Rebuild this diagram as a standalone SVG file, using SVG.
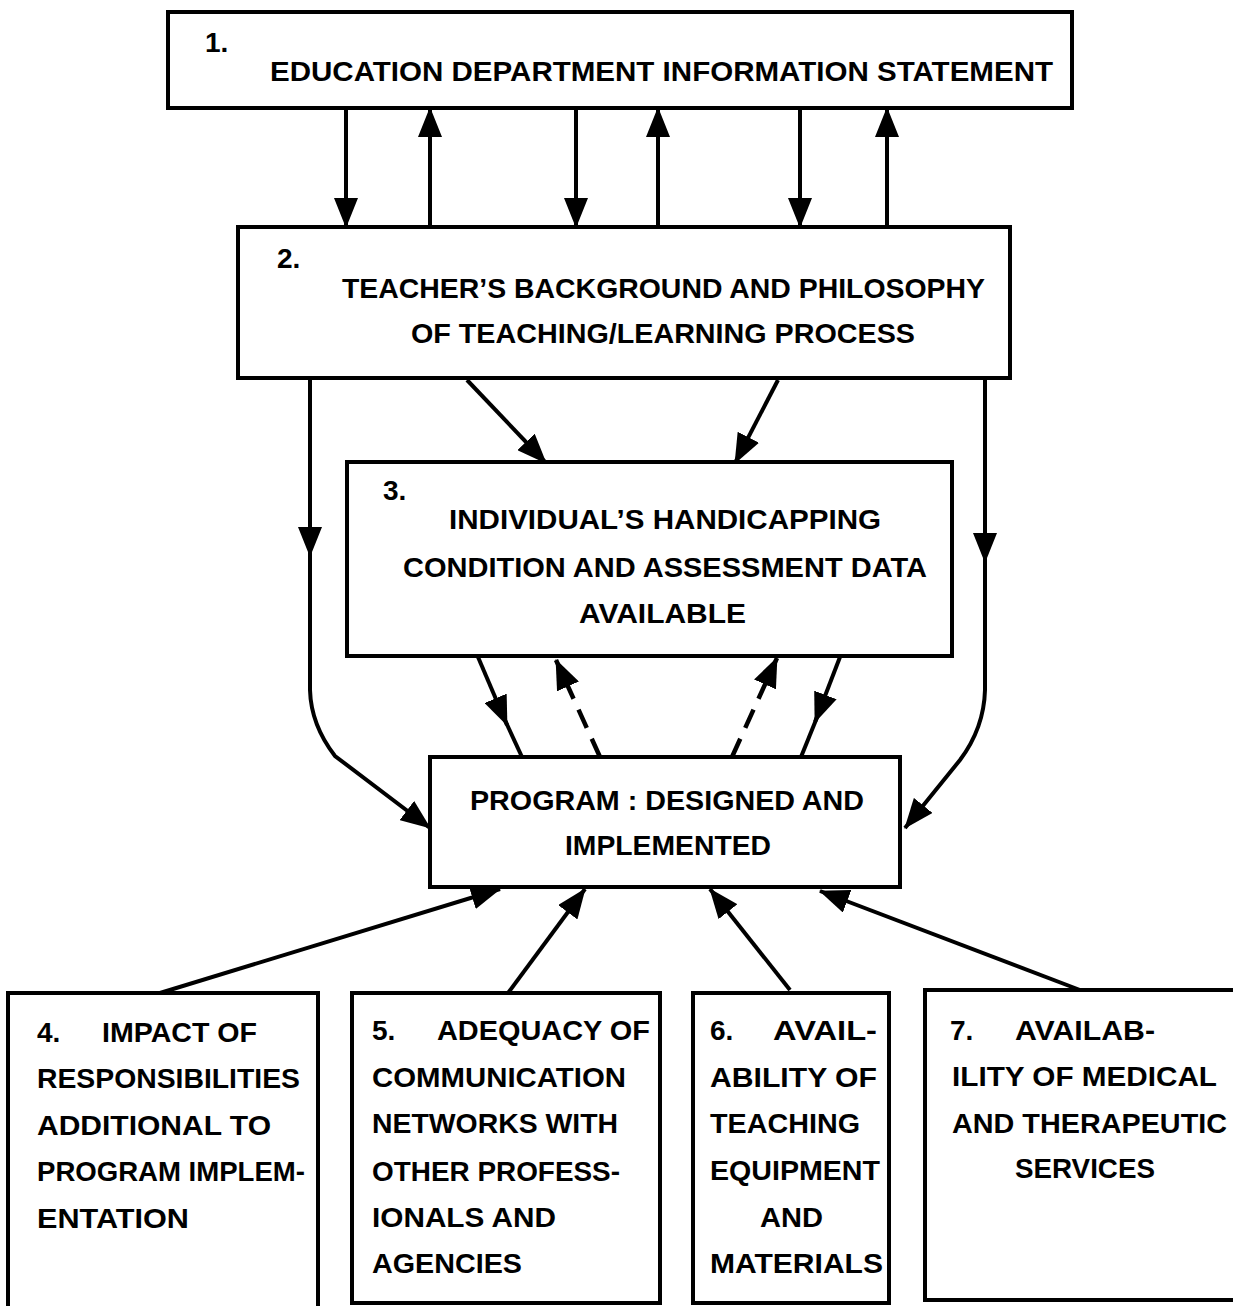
<svg xmlns="http://www.w3.org/2000/svg" width="1233" height="1306" viewBox="0 0 1233 1306">
<style>
.box{fill:#fff;stroke:#000;stroke-width:4}
.t{font-family:"Liberation Sans",Arial,sans-serif;font-weight:bold;font-size:28px;fill:#000}
.c{fill:none;stroke:#000;stroke-width:4}
.d{fill:none;stroke:#000;stroke-width:4.5;stroke-dasharray:20 12}
</style>
<defs>
<marker id="ah" markerUnits="userSpaceOnUse" markerWidth="30" markerHeight="24" viewBox="0 0 30 24" refX="29" refY="12" orient="auto">
<path d="M0,0 L30,12 L0,24 Z" fill="#000"/>
</marker>
</defs>
<rect width="1233" height="1306" fill="#fff"/>
<g id="connectors">
<path class="c" d="M346,108 L346,227" marker-end="url(#ah)"/>
<path class="c" d="M430,227 L430,108" marker-end="url(#ah)"/>
<path class="c" d="M576,108 L576,227" marker-end="url(#ah)"/>
<path class="c" d="M658,227 L658,108" marker-end="url(#ah)"/>
<path class="c" d="M800,108 L800,227" marker-end="url(#ah)"/>
<path class="c" d="M887,227 L887,108" marker-end="url(#ah)"/>
<path class="c" d="M467,380 L546,463" marker-end="url(#ah)"/>
<path class="c" d="M778,380 L735,463" marker-end="url(#ah)"/>
<path class="c" d="M310,378 L310,556" marker-end="url(#ah)"/>
<path class="c" d="M310,550 L310,690 Q311,725 335,756 L430,828" marker-end="url(#ah)"/>
<path class="c" d="M985,378 L985,562" marker-end="url(#ah)"/>
<path class="c" d="M985,557 L985,690 Q984,728 960,760 L905,828" marker-end="url(#ah)"/>
<path class="c" d="M478,657 L507,725" marker-end="url(#ah)"/>
<path class="c" d="M504,718 L522,757"/>
<path class="c" d="M840,657 L815,722" marker-end="url(#ah)"/>
<path class="c" d="M818,715 L801,757"/>
<path class="d" d="M600,757 L556,660" marker-end="url(#ah)"/>
<path class="d" d="M732,757 L777,658" marker-end="url(#ah)"/>
<path class="c" d="M160,993 L500,889" marker-end="url(#ah)"/>
<path class="c" d="M508,993 L585,889" marker-end="url(#ah)"/>
<path class="c" d="M790,990 L710,889" marker-end="url(#ah)"/>
<path class="c" d="M1080,990 L820,891" marker-end="url(#ah)"/>
</g>
<g id="node1">
<rect class="box" x="168" y="12" width="904" height="96"/>
<text class="t" x="205" y="52">1.</text>
<text class="t" x="270" y="81" textLength="783" lengthAdjust="spacingAndGlyphs">EDUCATION DEPARTMENT INFORMATION STATEMENT</text>
</g>
<g id="node2">
<rect class="box" x="238" y="227" width="772" height="151"/>
<text class="t" x="277" y="268">2.</text>
<text class="t" x="342" y="298" textLength="643" lengthAdjust="spacingAndGlyphs">TEACHER’S BACKGROUND AND PHILOSOPHY</text>
<text class="t" x="411" y="343" textLength="504" lengthAdjust="spacingAndGlyphs">OF TEACHING/LEARNING PROCESS</text>
</g>
<g id="node3">
<rect class="box" x="347" y="462" width="605" height="194"/>
<text class="t" x="383" y="500">3.</text>
<text class="t" x="449" y="529" textLength="432" lengthAdjust="spacingAndGlyphs">INDIVIDUAL’S HANDICAPPING</text>
<text class="t" x="403" y="577" textLength="524" lengthAdjust="spacingAndGlyphs">CONDITION AND ASSESSMENT DATA</text>
<text class="t" x="579" y="623" textLength="167" lengthAdjust="spacingAndGlyphs">AVAILABLE</text>
</g>
<g id="nodeP">
<rect class="box" x="430" y="757" width="470" height="130"/>
<text class="t" x="470" y="810" textLength="394" lengthAdjust="spacingAndGlyphs">PROGRAM : DESIGNED AND</text>
<text class="t" x="565" y="855" textLength="206" lengthAdjust="spacingAndGlyphs">IMPLEMENTED</text>
</g>
<g id="node4">
<rect class="box" x="8" y="993" width="310" height="320"/>
<text class="t"><tspan x="37" y="1042">4.</tspan><tspan x="102" y="1042" textLength="155" lengthAdjust="spacingAndGlyphs">IMPACT OF</tspan></text>
<text class="t" x="37" y="1088" textLength="263" lengthAdjust="spacingAndGlyphs">RESPONSIBILITIES</text>
<text class="t" x="37" y="1135" textLength="234" lengthAdjust="spacingAndGlyphs">ADDITIONAL TO</text>
<text class="t" x="37" y="1181" textLength="268" lengthAdjust="spacingAndGlyphs">PROGRAM IMPLEM-</text>
<text class="t" x="37" y="1228" textLength="152" lengthAdjust="spacingAndGlyphs">ENTATION</text>
</g>
<g id="node5">
<rect class="box" x="352" y="993" width="308" height="310"/>
<text class="t"><tspan x="372" y="1040">5.</tspan><tspan x="437" y="1040" textLength="213" lengthAdjust="spacingAndGlyphs">ADEQUACY OF</tspan></text>
<text class="t" x="372" y="1087" textLength="254" lengthAdjust="spacingAndGlyphs">COMMUNICATION</text>
<text class="t" x="372" y="1133" textLength="246" lengthAdjust="spacingAndGlyphs">NETWORKS WITH</text>
<text class="t" x="372" y="1181" textLength="248" lengthAdjust="spacingAndGlyphs">OTHER PROFESS-</text>
<text class="t" x="372" y="1227" textLength="184" lengthAdjust="spacingAndGlyphs">IONALS AND</text>
<text class="t" x="372" y="1273" textLength="150" lengthAdjust="spacingAndGlyphs">AGENCIES</text>
</g>
<g id="node6">
<rect class="box" x="693" y="993" width="196" height="310"/>
<text class="t"><tspan x="710" y="1040">6.</tspan><tspan x="773" y="1040" textLength="104" lengthAdjust="spacingAndGlyphs">AVAIL-</tspan></text>
<text class="t" x="710" y="1087" textLength="167" lengthAdjust="spacingAndGlyphs">ABILITY OF</text>
<text class="t" x="710" y="1133" textLength="150" lengthAdjust="spacingAndGlyphs">TEACHING</text>
<text class="t" x="710" y="1180" textLength="170" lengthAdjust="spacingAndGlyphs">EQUIPMENT</text>
<text class="t" x="760" y="1227" textLength="63" lengthAdjust="spacingAndGlyphs">AND</text>
<text class="t" x="710" y="1273" textLength="173" lengthAdjust="spacingAndGlyphs">MATERIALS</text>
</g>
<g id="node7">
<rect class="box" x="925" y="990" width="320" height="310"/>
<text class="t"><tspan x="950" y="1040">7.</tspan><tspan x="1015" y="1040" textLength="140" lengthAdjust="spacingAndGlyphs">AVAILAB-</tspan></text>
<text class="t" x="952" y="1086" textLength="265" lengthAdjust="spacingAndGlyphs">ILITY OF MEDICAL</text>
<text class="t" x="952" y="1133" textLength="275" lengthAdjust="spacingAndGlyphs">AND THERAPEUTIC</text>
<text class="t" x="1015" y="1178" textLength="140" lengthAdjust="spacingAndGlyphs">SERVICES</text>
</g>
</svg>
